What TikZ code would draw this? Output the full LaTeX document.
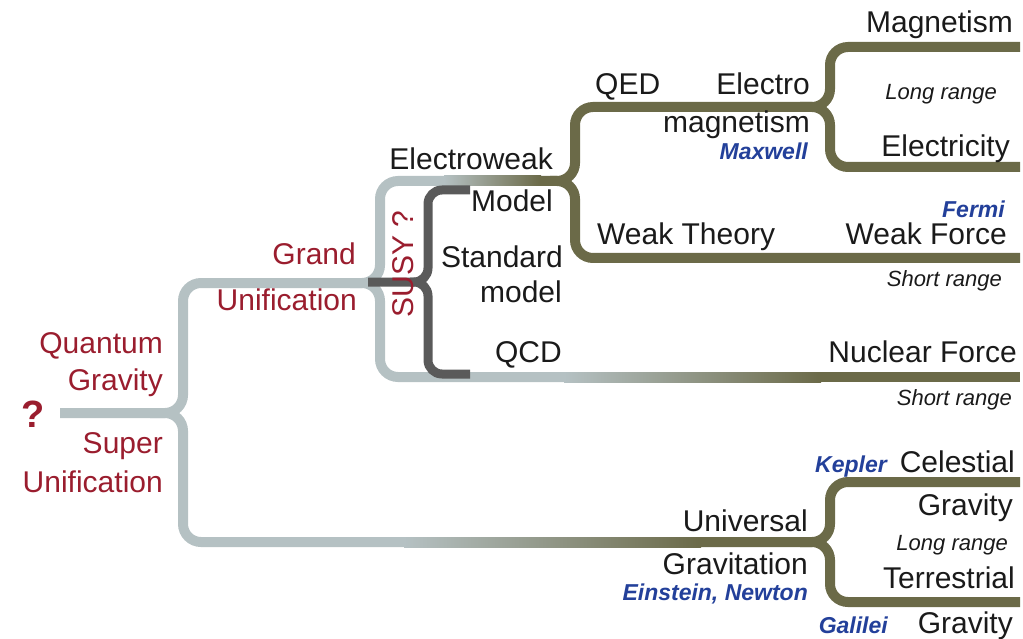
\documentclass[tikz,border=0pt]{standalone}
\usepackage{fontspec}
\setmainfont{Liberation Sans}
\definecolor{pale}{HTML}{B5C1C3}
\definecolor{moss}{HTML}{6B6A48}
\definecolor{slate}{HTML}{5A5A5A}
\definecolor{wine}{HTML}{9A1D2E}
\definecolor{royal}{HTML}{23409A}
\definecolor{ink}{HTML}{1A1A1A}
\begin{document}
\begin{tikzpicture}[x=1pt, y=-1pt,
    branch/.style={line width=10pt, rounded corners=18pt},
    unified/.style={branch, draw=pale},
    theory/.style={branch, draw=moss},
    susy/.style={branch, line width=9pt, draw=slate, rounded corners=14pt},
    term/.style={font=\fontsize{30}{34}\selectfont, text=ink, inner sep=0pt, anchor=base east},
    stage/.style={term, text=wine},
    who/.style={font=\fontsize{23}{26}\selectfont\bfseries\itshape, text=royal, inner sep=0pt, anchor=base east},
    reach/.style={font=\fontsize{22}{26}\selectfont\itshape, text=ink, inner sep=0pt, anchor=base east}
]
\useasboundingbox (0,0) rectangle (1023,639);

% Unification stages
\draw[unified] (60,413) -- (183,413) -- (183,283) -- (380,283) -- (380,181) -- (445,181);
\draw[unified] (150,413) -- (183,413) -- (183,542) -- (405,542);
\draw[unified] (350,283) -- (380,283) -- (380,377) -- (565,377);

% Fades
\shade[left color=pale, right color=moss] (444,176) rectangle (541,186);
\shade[left color=pale, right color=moss] (564,372) rectangle (821,382);
\shade[left color=pale, right color=moss] (404,537) rectangle (701,547);

% Theories
\draw[theory] (540,181) -- (575,181) -- (575,107) -- (830,107) -- (830,47) -- (1020,47);
\draw[theory] (800,107) -- (830,107) -- (830,167) -- (1020,167);
\draw[theory] (550,181) -- (575,181) -- (575,258) -- (1020,258);
\draw[theory] (820,377) -- (1020,377);
\draw[theory] (700,542) -- (830,542) -- (830,482) -- (1020,482);
\draw[theory] (800,542) -- (830,542) -- (830,602) -- (1020,602);

% SUSY bracket
\draw[susy] (368,282) -- (428,282) -- (428,190) -- (470,190);
\draw[susy] (410,282) -- (428,282) -- (428,374) -- (470,374);

% Stages
\node[font=\fontsize{38}{40}\selectfont\bfseries, text=wine] (qmark) at (33,414) {?};
\node[stage] (quantum) at (163,353) {Quantum};
\node[stage] (qgravity) at (163,390) {Gravity};
\node[stage] (super) at (163,453) {Super};
\node[stage] (superunif) at (163,492) {Unification};
\node[stage] (grand) at (356,265) {Grand};
\node[stage] (grandunif) at (357,310) {Unification};
\node[stage, rotate=90, anchor=center] (susyq) at (403,264) {SUSY ?};

% Theories
\node[term] (electroweak) at (553,170) {Electroweak};
\node[term] (model) at (553,212) {Model};
\node[term] (standard) at (563,268) {Standard};
\node[term] (stdmodel) at (562,302) {model};
\node[term] (qcd) at (562,362) {QCD};
\node[term, anchor=base west] (qed) at (595,95) {QED};
\node[term] (electro) at (810,95) {Electro};
\node[term] (magneto) at (810,133) {magnetism};
\node[who] (maxwell) at (808,160) {Maxwell};
\node[term, anchor=base west] (weaktheory) at (597,245) {Weak Theory};
\node[term] (universal) at (808,531) {Universal};
\node[term] (gravitation) at (808,574) {Gravitation};
\node[who] (einstein) at (808,600) {Einstein, Newton};

% Forces
\node[term] (magnetism) at (1013,33) {Magnetism};
\node[reach] (emrange) at (997,100) {Long range};
\node[term] (electricity) at (1010,157) {Electricity};
\node[who] (fermi) at (1005,218) {Fermi};
\node[term] (weakforce) at (1007,245) {Weak Force};
\node[reach] (weakrange) at (1002,287) {Short range};
\node[term] (nuclear) at (1017,362) {Nuclear Force};
\node[reach] (nuclearrange) at (1012,405) {Short range};
\node[term] (celestial) at (1015,472) {Celestial};
\node[who] (kepler) at (887,472) {Kepler};
\node[term] (celgravity) at (1013,515) {Gravity};
\node[reach] (gravrange) at (1008,550) {Long range};
\node[term] (terrestrial) at (1015,588) {Terrestrial};
\node[term] (tergravity) at (1013,633) {Gravity};
\node[who] (galilei) at (888,633) {Galilei};
\end{tikzpicture}
\end{document}
